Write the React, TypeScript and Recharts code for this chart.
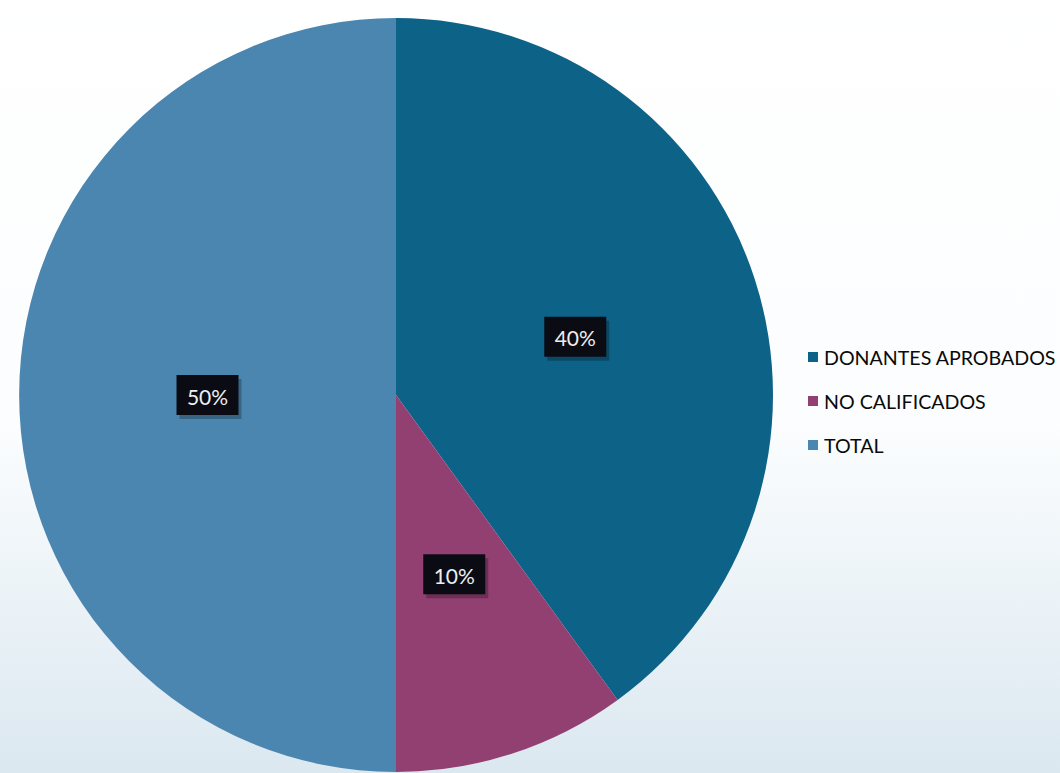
import React from 'react';
import { PieChart, Pie, Cell, Legend } from 'recharts';

const CATEGORIES = ['DONANTES APROBADOS', 'NO CALIFICADOS', 'TOTAL'];
const VALUES = [40, 10, 50];
const COLORS = ['#0d6288', '#923f72', '#4b86b1'];

const data = CATEGORIES.map((name, i) => ({ name, value: VALUES[i] }));

const RADIAN = Math.PI / 180;

function BoxLabel(props: any) {
  const { cx, cy, midAngle, outerRadius, percent } = props;
  const r = outerRadius * 0.5;
  const x = cx + r * Math.cos(-midAngle * RADIAN);
  const y = cy + r * Math.sin(-midAngle * RADIAN);
  const w = 62;
  const h = 40;
  return (
    <g>
      <rect x={x - w / 2 + 3} y={y - h / 2 + 4} width={w} height={h} fill="#000" opacity={0.25} />
      <rect x={x - w / 2} y={y - h / 2} width={w} height={h} fill="#0b0b14" />
      <text
        x={x}
        y={y + 1}
        fill="#eeeeee"
        fontSize={21}
        fontFamily="Lato, 'Open Sans', sans-serif"
        textAnchor="middle"
        dominantBaseline="central"
      >
        {`${Math.round(percent * 100)}%`}
      </text>
    </g>
  );
}

function LegendList() {
  return (
    <div style={{ fontFamily: "Lato, 'Open Sans', sans-serif", fontSize: 19.6, color: '#0a0a0a' }}>
      {CATEGORIES.map((c, i) => (
        <div key={c} style={{ display: 'flex', alignItems: 'center', height: 44 }}>
          <span style={{ width: 10, height: 10, background: COLORS[i], marginRight: 6, display: 'inline-block' }} />
          <span>{c}</span>
        </div>
      ))}
    </div>
  );
}

export default function App() {
  return (
    <div
      style={{
        position: 'fixed',
        left: 0,
        top: 0,
        width: 1060,
        height: 773,
        overflow: 'hidden',
        background: 'linear-gradient(to bottom, #ffffff 0%, #fbfdfe 55%, #dbe8f0 100%)',
      }}
    >
      <PieChart width={1060} height={773}>
        <Pie
          data={data}
          dataKey="value"
          nameKey="name"
          cx={391}
          cy={390}
          outerRadius={377}
          startAngle={90}
          endAngle={-270}
          stroke="none"
          label={BoxLabel}
          labelLine={false}
          isAnimationActive={false}
        >
          {data.map((d, i) => (
            <Cell key={d.name} fill={COLORS[i]} />
          ))}
        </Pie>
        <Legend
          content={() => <LegendList />}
          wrapperStyle={{ position: 'absolute', left: 808, top: 335, width: 252 }}
        />
      </PieChart>
    </div>
  );
}
